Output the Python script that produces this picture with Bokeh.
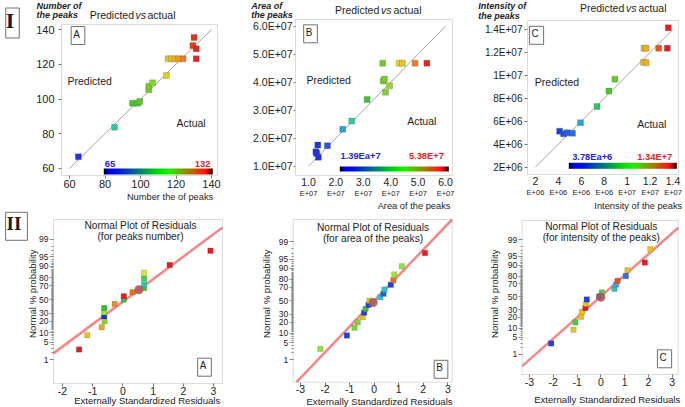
import math
from bokeh.plotting import figure
from bokeh.layouts import row, column
from bokeh.models import (Label, ColorBar, LinearColorMapper, FixedTicker, BoxAnnotation,
                          LinearAxis, Range1d, ColumnDataSource)
from bokeh.transform import linear_cmap
from bokeh.embed import file_html
from bokeh.resources import INLINE

# ------------------------------------------------------------------ data
# I-A  number of peaks (actual vs predicted)
a_actual = [65, 85.4, 95.5, 98.5, 99.6, 104.7, 104.7, 106.8, 114.6,
            115.5, 117.5, 119.5, 121.5, 124.0, 129.5, 130.2, 131.4, 131.4]
a_pred = [66.7, 83.8, 97.6, 97.6, 98.6, 105.3, 107.4, 109.3, 113.5,
          123.1, 123.1, 123.1, 123.1, 123.1, 130.8, 135.4, 128.9, 123.2]
a_ticks = [60, 80, 100, 120, 140]
a_xrange = [55.49, 143.38]
a_yrange = [55.97, 142.88]
a_range_txt = ["65", "132"]
a_low, a_high = 65, 132

# I-B  area of the peaks (units of 1E+07)
b_actual = [1.27, 1.30, 1.34, 1.36, 1.69, 2.25, 2.58, 3.14, 3.71, 3.73,
            3.77, 3.81, 3.96, 4.31, 4.43, 4.89, 5.32]
b_pred = [1.52, 1.45, 1.76, 1.32, 1.73, 2.32, 2.61, 3.38, 4.68, 4.04,
          4.11, 3.64, 3.87, 4.68, 4.68, 4.68, 4.68]
b_ticks = [1, 2, 3, 4, 5, 6]
b_xlabels = ["1.0", "2.0", "3.0", "4.0", "5.0", "6.0"]
b_ylabels = ["1.0E+07", "2.0E+07", "3.0E+07", "4.0E+07", "5.0E+07", "6.0E+07"]
b_xrange = [0.526, 6.255]
b_yrange = [0.668, 6.239]
b_range_txt = ["1.39Ea+7", "5.38E+7"]
b_low, b_high = 1.39, 5.38

# I-C  intensity of the peaks (units of 1E+06)
c_actual = [4.11, 4.45, 4.77, 5.23, 5.93, 7.37, 8.41, 8.93, 11.42, 11.65,
            11.47, 11.65, 12.75, 13.50, 13.59]
c_pred = [5.14, 4.91, 5.00, 4.96, 5.87, 7.29, 8.63, 9.67, 11.15, 11.10,
          12.37, 12.37, 12.37, 12.37, 14.15]
c_ticks = [2, 4, 6, 8, 10, 12, 14]
c_xlabels = ["2", "4", "6", "8", "1", "1.2", "1.4"]
c_xexp = ["E+06", "E+06", "E+06", "E+06", "E+07", "E+07", "E+07"]
c_ylabels = ["2E+06", "4E+06", "6E+06", "8E+06", "1E+07", "1.2E+07", "1.4E+07"]
c_xrange = [1.307, 14.477]
c_yrange = [1.364, 14.784]
c_range_txt = ["3.78Ea+6", "1.34E+7"]
c_low, c_high = 3.78, 13.4

# II  normal plots of residuals
prob_major = [1, 5, 10, 20, 30, 50, 70, 80, 90, 95, 99]
prob_minor = list(range(1, 100))

a2_res = [-1.45, -1.18, -0.70, -0.61, -0.62, -0.62, -0.62, -0.27, 0.03, 0.03,
          0.32, 0.70, 0.70, 0.70, 0.70, 1.55, 2.90]
a2_prob = [2.7, 8.4, 14.2, 20, 26, 31, 37, 43, 50, 55, 61, 67, 72, 79, 85, 90.8, 97]
a2_col = ["#e02020", "#e8c020", "#e0a828", "#8cd030", "#2030e0", "#a0e040",
          "#30c030", "#e09030", "#40c040", "#e02020", "#e07020", "#40c040",
          "#30c0b0", "#40d040", "#e0e040", "#e02020", "#e02020"]
a2_center = ([0.53], [64.6])
a2_fit = [0.868, -0.084]
a2_xticks = [-2, -1, 0, 1, 2, 3]
a2_xrange = [-2.298, 3.298]
a2_zrange = [-3.243, 3.089]

b2_res = [-2.19, -1.11, -0.80, -0.67, -0.46, -0.41, -0.35, -0.23, -0.19, 0.25,
          0.38, 0.42, 0.68, 0.78, 0.82, 1.13, 2.07]
b2_prob = [2.9, 8.6, 14.4, 20, 26, 32, 37.5, 43.7, 50, 55.6, 61, 67, 73.6, 79, 85, 91.3, 97]
b2_col = ["#90e040", "#2040e0", "#80d040", "#80d040", "#e8c020", "#2040e0",
          "#40c040", "#2040e0", "#e0c020", "#30c0e0", "#2060e0", "#30c0d0",
          "#2040e0", "#e07020", "#a0e040", "#90e040", "#e02020"]
b2_center = ([-0.04], [47.3])
b2_fit = [1.01, -0.01]
b2_xticks = [-3, -2, -1, 0, 1, 2, 3]
b2_xrange = [-3.297, 3.179]
b2_zrange = [-3.205, 3.2]

c2_res = [-2.09, -1.15, -1.07, -0.83, -0.79, -0.65, -0.62, -0.59, -0.07, 0.04,
          0.57, 0.64, 0.70, 1.05, 1.12, 1.85, 2.08]
c2_prob = [2.9, 9, 14.9, 20.8, 27, 32.6, 38.8, 45.6, 50.5, 56.9, 62.7, 69, 74, 80, 86, 91.8, 97.3]
c2_col = ["#2040e0", "#e8c020", "#40d040", "#e8c020", "#e8c020", "#e02020",
          "#e8c020", "#2040e0", "#2040e0", "#40d040", "#30c0b0", "#40a0e0",
          "#e05020", "#3070e0", "#e8c020", "#e02020", "#e8c020"]
c2_center = ([0.0], [49.4])
c2_fit = [0.857, 0.016]
c2_xticks = [-3, -2, -1, 0, 1, 2, 3]
c2_xrange = [-3.307, 3.252]
c2_zrange = [-3.159, 3.10]

# ------------------------------------------------------------------ helpers
SX = 1.0
SY = 1.0
FONT = "Liberation Sans"
SERIF = "Liberation Serif"
TXT = "#1e1e1e"
GEOM = {}


def probit(p):
    lo, hi = -12.0, 12.0
    for _ in range(80):
        mid = 0.5 * (lo + hi)
        if 0.5 * (1 + math.erf(mid / math.sqrt(2))) < p:
            lo = mid
        else:
            hi = mid
    return round(0.5 * (lo + hi), 6)


def ramp(stops, n=256):
    out = []
    for i in range(n):
        t = i / (n - 1)
        for (t0, c0), (t1, c1) in zip(stops[:-1], stops[1:]):
            if t0 <= t <= t1:
                f = (t - t0) / (t1 - t0) if t1 > t0 else 0
                rgb = [int(round(int(c0[k:k + 2], 16) * (1 - f) + int(c1[k:k + 2], 16) * f))
                       for k in (1, 3, 5)]
                out.append("#%02x%02x%02x" % tuple(rgb))
                break
    return out


PT_PAL = ramp([(0, "#2035e0"), (0.15, "#2a70e0"), (0.27, "#30c8c0"), (0.42, "#38c038"),
               (0.6, "#78d028"), (0.72, "#d8d828"), (0.82, "#e8b020"), (0.9, "#e87020"),
               (1.0, "#e02020")])
BAR_PAL = ramp([(0, "#000000"), (0.04, "#0000e6"), (0.12, "#0010e0"), (0.3, "#006e8c"),
                (0.5, "#00dc00"), (0.6, "#20f000"), (0.78, "#a08000"), (0.93, "#ff1010"),
                (0.97, "#b00000"), (1.0, "#000000")])


def make_fig(W, H, x0, y0, frame, xr, yr):
    """Canvas = frame; the visible plot box (frame, ref px) is drawn inside it."""
    L, R, T, B = frame
    Lc, Rc = L * SX - x0, R * SX - x0
    Tc, Bc = T * SY - y0, B * SY - y0
    kx = (Rc - Lc) / (xr[1] - xr[0])
    ky = (Bc - Tc) / (yr[1] - yr[0])
    outer_x = (xr[0] - Lc / kx, xr[0] + (W - Lc) / kx)
    outer_y = (yr[0] - (H - Bc) / ky, yr[1] + Tc / ky)
    p = figure(width=W, height=H, x_range=Range1d(*outer_x), y_range=Range1d(*outer_y),
               output_backend="svg", toolbar_location=None, title=None, min_border=0)
    p.min_border_left = p.min_border_right = p.min_border_top = p.min_border_bottom = 0
    p.xgrid.visible = False
    p.ygrid.visible = False
    p.outline_line_color = None
    p.border_fill_color = "white"
    p.background_fill_color = "white"
    p.add_layout(BoxAnnotation(left=xr[0], right=xr[1], bottom=yr[0], top=yr[1],
                               fill_color=None, line_color="#8a8a8a", line_width=1,
                               level="underlay"))
    p.xaxis[0].fixed_location = yr[0]
    p.yaxis[0].fixed_location = xr[0]
    GEOM[id(p)] = (W, H, x0, y0, xr, yr)
    return p


def style_axis(ax, ticks, labels, size, tick_out=3, standoff=2, minor=None, tick_color="#777"):
    ax.ticker = FixedTicker(ticks=ticks, minor_ticks=minor or [])
    ax.major_label_overrides = dict(zip(ticks, labels))
    ax.major_label_text_font = FONT
    ax.major_label_text_font_size = f"{size}px"
    ax.major_label_text_color = TXT
    ax.axis_line_color = None
    ax.major_tick_line_color = tick_color
    ax.major_tick_out = tick_out
    ax.major_tick_in = 0
    ax.minor_tick_line_color = tick_color if minor else None
    ax.minor_tick_out = 2
    ax.minor_tick_in = 0
    ax.major_label_standoff = standoff


def lab(p, text, xr, yr, size, align="left", color=TXT, style="normal",
        font=FONT, angle=0.0, box=None):
    W, H, x0, y0, _, _ = GEOM[id(p)]
    kw = {}
    if box is not None:
        kw = dict(border_line_color="#707070", border_line_width=1,
                  background_fill_color="white", padding=box)
    p.add_layout(Label(x=xr * SX - x0, y=H - (yr * SY - y0), x_units="screen", y_units="screen",
                       text=text, text_font=font, text_font_size=f"{size}px",
                       text_align=align, text_baseline="middle", text_color=color,
                       text_font_style=style, angle=angle, **kw))


def cbar(p, xl, xrt, yt, yb):
    W, H, x0, y0, _, _ = GEOM[id(p)]
    mapper = LinearColorMapper(palette=BAR_PAL, low=0, high=1)
    cb = ColorBar(color_mapper=mapper, orientation="horizontal",
                  location=(xl * SX - x0, H - (yb * SY - y0)),
                  width=int(round((xrt - xl) * SX)), height=max(2, int(round((yb - yt) * SY))),
                  padding=0, margin=0, label_standoff=0,
                  major_label_text_font_size="0px", major_label_text_alpha=0,
                  major_tick_line_color=None, minor_tick_line_color=None,
                  bar_line_color=None, background_fill_alpha=0,
                  border_line_color=None, title=None)
    p.add_layout(cb, "center")


def title_row(p, x_pred_right, x_vs, x_act_left, y):
    lab(p, "Predicted", x_pred_right, y, 10.5, align="right")
    lab(p, "vs", x_vs, y, 10.5, align="center", style="italic")
    lab(p, "actual", x_act_left, y, 10.5, align="left")


def pred_panel(W, H, x0, frame, xr, yr, xs, ys, low, high, ticks):
    p = make_fig(W, H, x0, 0, frame, xr, yr)
    p.line([ticks[0], ticks[-1]], [ticks[0], ticks[-1]], line_color="#8c8c8c",
           line_width=0.8, level="underlay")
    src = ColumnDataSource(dict(x=xs, y=ys))
    p.scatter("x", "y", source=src, marker="square", size=6,
              fill_color=linear_cmap("x", PT_PAL, low=low, high=high),
              line_color="#444444", line_alpha=0.35, line_width=0.6)
    return p


# column geometry (px)
COL_X = [0, 234, 462]
COL_W = [234, 228, 223]
TOP_H = [208, 211, 211]
TOTAL_H = 407

# ------------------------------------------------------------------ I-A
FA = (61, 217, 24, 175)
pA = pred_panel(COL_W[0], TOP_H[0], COL_X[0], FA, a_xrange, a_yrange, a_actual, a_pred, a_low, a_high, a_ticks)
style_axis(pA.xaxis[0], a_ticks, [str(t) for t in a_ticks], 11, tick_out=3, standoff=1)
style_axis(pA.yaxis[0], a_ticks, [str(t) for t in a_ticks], 11, tick_out=3, standoff=4)
lab(pA, "I", 12, 22.5, 22, align="center", font=SERIF, style="bold", box=(0, 5, 0, 5))
lab(pA, "Number of", 36, 5.2, 9, style="bold italic")
lab(pA, "the peaks", 36, 14, 9, style="bold italic")
title_row(pA, 133.5, 140.2, 147, 14)
lab(pA, "A", 77.5, 35, 10, align="center", box=(2, 5, 2, 5))
lab(pA, "Predicted", 67, 80, 10.5)
lab(pA, "Actual", 176, 122, 10.5)
cbar(pA, 103.3, 212.7, 168.3, 174)
lab(pA, a_range_txt[0], 104.3, 163.3, 9.5, color="#2424e0", style="bold")
lab(pA, a_range_txt[1], 210, 163.3, 9.5, align="right", color="#f01c1c", style="bold")
lab(pA, "Number the of peaks", 212.7, 196.7, 9.3, align="right")

# ------------------------------------------------------------------ I-B
FB = (295, 452, 19, 175)
pB = pred_panel(COL_W[1], TOP_H[1], COL_X[1], FB, b_xrange, b_yrange, b_actual, b_pred, b_low, b_high, b_ticks)
style_axis(pB.xaxis[0], b_ticks, b_xlabels, 10.5, tick_out=0, standoff=2)
bx2 = LinearAxis(fixed_location=b_yrange[0])
style_axis(bx2, b_ticks, ["E+07"] * len(b_ticks), 7.5, tick_out=0, standoff=13)
bx2.major_tick_line_color = None
pB.add_layout(bx2, "below")
style_axis(pB.yaxis[0], b_ticks, b_ylabels, 10.5, tick_out=2, standoff=1)
lab(pB, "Area of", 250.7, 5.2, 9, style="bold italic")
lab(pB, "the peaks", 250.7, 14.2, 9, style="bold italic")
title_row(pB, 378.8, 385.8, 393, 9.3)
lab(pB, "B", 310, 33.3, 10, align="center", box=(2, 5, 2, 5))
lab(pB, "Predicted", 306, 79, 10.5)
lab(pB, "Actual", 406.7, 120, 10.5)
cbar(pB, 339.3, 448.3, 165.7, 171)
lab(pB, b_range_txt[0], 340, 155.7, 9.3, color="#2424e0", style="bold")
lab(pB, b_range_txt[1], 443.3, 155.7, 9.3, align="right", color="#f01c1c", style="bold")
lab(pB, "Area of the peaks", 450, 205, 9.3, align="right")

# ------------------------------------------------------------------ I-C
FC = (527, 678, 20, 174)
pC = pred_panel(COL_W[2], TOP_H[2], COL_X[2], FC, c_xrange, c_yrange, c_actual, c_pred, c_low, c_high, c_ticks)
style_axis(pC.xaxis[0], c_ticks, c_xlabels, 10.5, tick_out=0, standoff=2)
cx2 = LinearAxis(fixed_location=c_yrange[0])
style_axis(cx2, c_ticks, c_xexp, 7.5, tick_out=0, standoff=13)
cx2.major_tick_line_color = None
pC.add_layout(cx2, "below")
style_axis(pC.yaxis[0], c_ticks, c_ylabels, 10, tick_out=3, standoff=2)
lab(pC, "Intensity of", 477.7, 5.4, 9, style="bold italic")
lab(pC, "the peaks", 477.7, 15.5, 9, style="bold italic")
title_row(pC, 623.8, 630.8, 638, 7.3)
lab(pC, "C", 536, 34.8, 10, align="center", box=(2, 5, 2, 5))
lab(pC, "Predicted", 534.3, 81, 10.5)
lab(pC, "Actual", 636.7, 123.3, 10.5)
cbar(pC, 568.3, 676.7, 162.3, 168.3)
lab(pC, c_range_txt[0], 571.7, 156, 9.3, color="#2424e0", style="bold")
lab(pC, c_range_txt[1], 671.7, 156, 9.3, align="right", color="#f01c1c", style="bold")
lab(pC, "Intensity of the peaks", 681.7, 205, 9.3, align="right")


# ------------------------------------------------------------------ II panels
def fit_segment(fit, xr, zr):
    g, b = fit
    xa = max(xr[0], (zr[0] - b) / g)
    xb = min(xr[1], (zr[1] - b) / g)
    return [xa, xb], [g * xa + b, g * xb + b]


def resid_panel(col, frame, xr, zr, res, prob, cols, center, fit, xticks,
                sub, letter, title_x, title_y, ylab_x, xt_x, xt_y, box_x, box_y):
    W, x0, y0 = COL_W[col], COL_X[col], TOP_H[col]
    p = make_fig(W, TOTAL_H - y0, x0, y0, frame, xr, zr)
    fx, fz = fit_segment(fit, xr, zr)
    p.line(fx, fz, line_color="#f27c7c", line_width=2.6, line_alpha=0.9, level="underlay")
    src = ColumnDataSource(dict(x=res, z=[probit(v / 100) for v in prob], c=cols))
    p.scatter("x", "z", source=src, marker="square", size=5.5, fill_color="c",
              line_color="#444444", line_alpha=0.3, line_width=0.5)
    p.scatter(center[0], [probit(v / 100) for v in center[1]], marker="circle", size=9,
              fill_color="#a65a5a", fill_alpha=0.9, line_color=None)
    style_axis(p.xaxis[0], xticks, [str(t) for t in xticks], 10.5, tick_out=3, standoff=0)
    zt = [probit(v / 100) for v in prob_major]
    zm = [probit(v / 100) for v in prob_minor]
    style_axis(p.yaxis[0], zt, [str(v) for v in prob_major], 8.5, tick_out=4, standoff=1, minor=zm,
               tick_color="#8a8a8a")
    lab(p, "Normal Plot of Residuals", title_x, title_y, 10.2, align="center")
    lab(p, sub, title_x, title_y + 10.8, 10.2, align="center")
    lab(p, "Normal % probability", ylab_x, 293.2, 9.6, align="center", angle=math.pi / 2)
    lab(p, "Externally Standardized Residuals", xt_x, xt_y, 9.6, align="center")
    lab(p, letter, box_x, box_y, 10, align="center", box=(2, 5, 2, 5))
    return p


FA2 = (53, 222, 219, 383)
pA2 = resid_panel(0, FA2, a2_xrange, a2_zrange, a2_res, a2_prob,
                  a2_col, a2_center, a2_fit, a2_xticks, "(for peaks number)", "A",
                  140, 225, 32.3, 146.7, 400, 204, 366.7)
lab(pA2, "II", 16, 225.8, 19, align="center", font=SERIF, style="bold", box=(1, 6, 1, 6))

FB2 = (292.7, 451.7, 219, 381.7)
pB2 = resid_panel(1, FB2, b2_xrange, b2_zrange, b2_res, b2_prob,
                  b2_col, b2_center, b2_fit, b2_xticks, "(for area of the peaks)", "B",
                  372.5, 227.3, 266, 379, 400.7, 440.5, 368.8)

FC2 = (521.7, 677.7, 220, 374)
pC2 = resid_panel(2, FC2, c2_xrange, c2_zrange, c2_res, c2_prob,
                  c2_col, c2_center, c2_fit, c2_xticks, "(for intensity of the peaks)", "C",
                  600.8, 226, 494.3, 606.7, 399.3, 664, 358.3)

layout = row(column(pA, pA2, spacing=0), column(pB, pB2, spacing=0),
             column(pC, pC2, spacing=0), spacing=0)

open("out.html", "w").write(file_html(layout, INLINE))
